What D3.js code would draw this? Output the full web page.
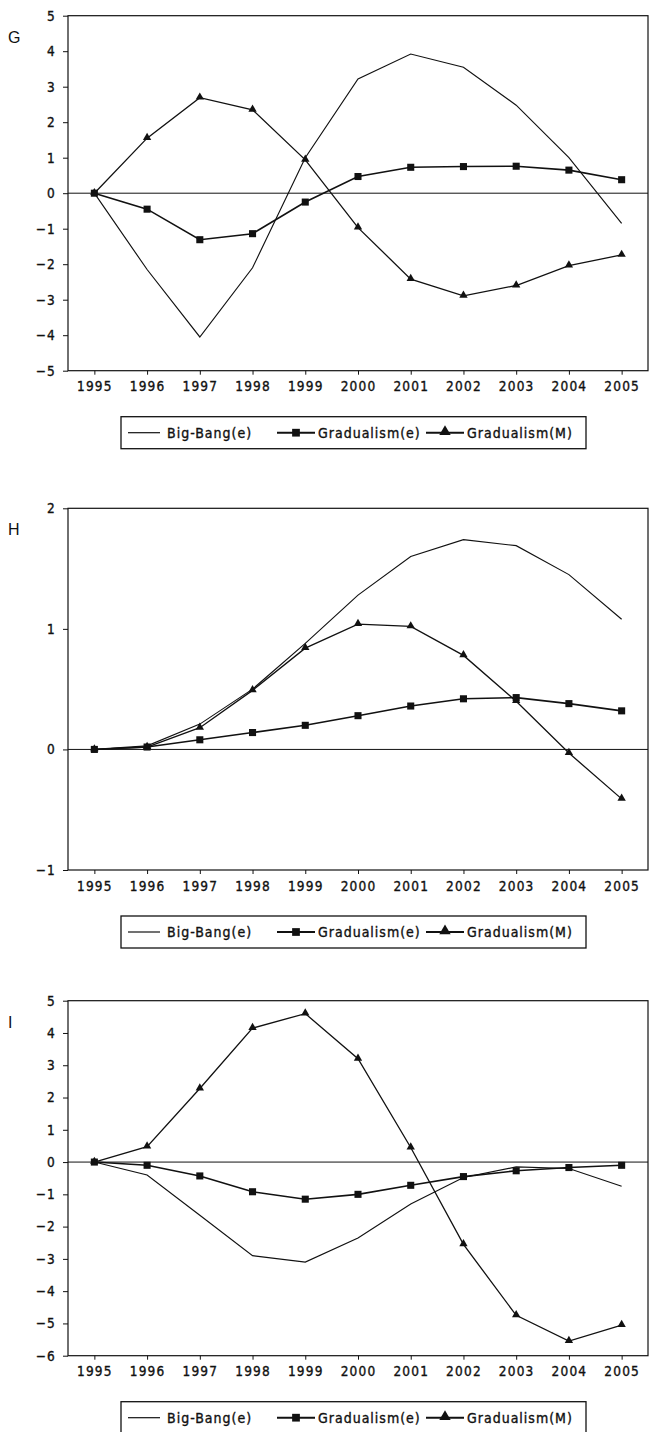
<!DOCTYPE html>
<html>
<head>
<meta charset="utf-8">
<script src="https://cdn.jsdelivr.net/npm/d3@7"></script>
<style>
  body { margin: 0; background: #fff; }
  svg { display: block; }
  .tick text, .leg text { font-family: "DejaVu Sans Condensed", "DejaVu Sans", sans-serif; font-stretch: condensed; fill: #111; stroke: #111; stroke-width: 0.35px; }
  .panel-letter { font-family: "Liberation Sans", Arial, sans-serif; font-size: 16px; fill: #111; }
</style>
</head>
<body>
<div id="chart"></div>
<script>
// years along the x axis
const years = ["1995","1996","1997","1998","1999","2000","2001","2002","2003","2004","2005"];

// series names (legend)
const seriesNames = ["Big-Bang(e)", "Gradualism(e)", "Gradualism(M)"];

// panel G
const gBigBang = [0, -2.15, -4.05, -2.1, 1.0, 3.22, 3.92, 3.55, 2.48, 1.0, -0.85];
const gGradE   = [0, -0.45, -1.31, -1.14, -0.25, 0.47, 0.73, 0.75, 0.76, 0.65, 0.38];
const gGradM   = [0, 1.55, 2.69, 2.35, 0.94, -0.97, -2.42, -2.89, -2.6, -2.04, -1.74];
const gTicks   = [-5, -4, -3, -2, -1, 0, 1, 2, 3, 4, 5];

// panel H
const hBigBang = [0, 0.03, 0.21, 0.5, 0.88, 1.28, 1.6, 1.74, 1.69, 1.45, 1.08];
const hGradE   = [0, 0.02, 0.08, 0.14, 0.2, 0.28, 0.36, 0.42, 0.43, 0.38, 0.32];
const hGradM   = [0, 0.02, 0.18, 0.49, 0.84, 1.04, 1.02, 0.78, 0.4, -0.03, -0.41];
const hTicks   = [-1, 0, 1, 2];

// panel I
const iBigBang = [0, -0.4, -1.65, -2.9, -3.1, -2.35, -1.3, -0.48, -0.15, -0.2, -0.75];
const iGradE   = [0, -0.1, -0.43, -0.92, -1.15, -1.0, -0.72, -0.45, -0.27, -0.17, -0.1];
const iGradM   = [0, 0.48, 2.28, 4.15, 4.6, 3.2, 0.45, -2.55, -4.75, -5.55, -5.05];
const iTicks   = [-6, -5, -4, -3, -2, -1, 0, 1, 2, 3, 4, 5];

const W = 649, H = 1432;
const left = 68, right = 648;
const ink = "#111";

const svg = d3.select("#chart").append("svg")
  .attr("width", W).attr("height", H);

const x = d3.scalePoint().domain(years).range([left, right]).padding(0.5);

const tri = d3.symbol().type(d3.symbolTriangle);
const sq = d3.symbol().type(d3.symbolSquare);

function drawPanel(letter, top, bottom, ticks, bb, ge, gm) {
  const y = d3.scaleLinear().domain([d3.min(ticks), d3.max(ticks)]).range([bottom, top]);
  const g = svg.append("g");

  // frame
  g.append("rect")
    .attr("x", left).attr("y", top)
    .attr("width", right - left).attr("height", bottom - top)
    .attr("fill", "none").attr("stroke", ink).attr("stroke-width", 1.2);

  // zero line
  g.append("line")
    .attr("x1", left).attr("x2", right)
    .attr("y1", y(0)).attr("y2", y(0))
    .attr("stroke", ink).attr("stroke-width", 1);

  const yAx = g.append("g")
    .attr("transform", `translate(${left},0)`)
    .call(d3.axisLeft(y).tickValues(ticks).tickSize(5).tickPadding(7).tickFormat(d3.format("d")));
  yAx.select(".domain").remove();

  const xAx = g.append("g")
    .attr("transform", `translate(0,${bottom})`)
    .call(d3.axisBottom(x).tickSize(4).tickPadding(7));
  xAx.select(".domain").remove();

  g.selectAll(".tick line").attr("stroke", ink);
  g.selectAll(".tick text").attr("font-size", 13.5).style("letter-spacing", "1.2px");

  g.append("text").attr("class", "panel-letter")
    .attr("x", 8).attr("y", top + 27).text(letter);

  const line = d3.line().x((d, i) => x(years[i])).y(d => y(d));

  g.append("path").datum(bb).attr("d", line)
    .attr("fill", "none").attr("stroke", ink).attr("stroke-width", 1.15);
  g.append("path").datum(ge).attr("d", line)
    .attr("fill", "none").attr("stroke", ink).attr("stroke-width", 1.6);
  g.append("path").datum(gm).attr("d", line)
    .attr("fill", "none").attr("stroke", ink).attr("stroke-width", 1.3);

  g.selectAll(".sq").data(ge).join("path")
    .attr("transform", (d, i) => `translate(${x(years[i])},${y(d)})`)
    .attr("d", sq.size(50)).attr("fill", ink);
  g.selectAll(".tri").data(gm).join("path")
    .attr("transform", (d, i) => `translate(${x(years[i])},${y(d) - 0.5})`)
    .attr("d", tri.size(30)).attr("fill", ink);

  // legend
  const lt = bottom + 46, lh = 32, cy = lt + lh / 2;
  const leg = g.append("g").attr("class", "leg");
  leg.append("rect")
    .attr("x", 121).attr("y", lt).attr("width", 465).attr("height", lh)
    .attr("fill", "none").attr("stroke", ink).attr("stroke-width", 1.3);

  const items = [
    { x1: 128, x2: 160, tx: 167, mark: null, sw: 1.2 },
    { x1: 277, x2: 315, tx: 318, mark: "sq", sw: 1.9 },
    { x1: 426, x2: 464, tx: 467, mark: "tri", sw: 1.9 }
  ];
  items.forEach((it, k) => {
    leg.append("line").attr("x1", it.x1).attr("x2", it.x2)
      .attr("y1", cy).attr("y2", cy).attr("stroke", ink).attr("stroke-width", it.sw);
    if (it.mark === "sq") {
      leg.append("path").attr("transform", `translate(${(it.x1 + it.x2) / 2},${cy})`)
        .attr("d", sq.size(60)).attr("fill", ink);
    } else if (it.mark === "tri") {
      leg.append("path").attr("transform", `translate(${(it.x1 + it.x2) / 2},${cy - 1})`)
        .attr("d", tri.size(56)).attr("fill", ink);
    }
    leg.append("text").attr("x", it.tx).attr("y", cy).attr("dy", "0.35em")
      .attr("font-size", 14).style("letter-spacing", "1px")
      .text(seriesNames[k]);
  });
}

drawPanel("G", 15.7, 370.7, gTicks, gBigBang, gGradE, gGradM);
drawPanel("H", 508.3, 870, hTicks, hBigBang, hGradE, hGradM);
drawPanel("I", 1000.7, 1355.7, iTicks, iBigBang, iGradE, iGradM);
</script>
</body>
</html>
